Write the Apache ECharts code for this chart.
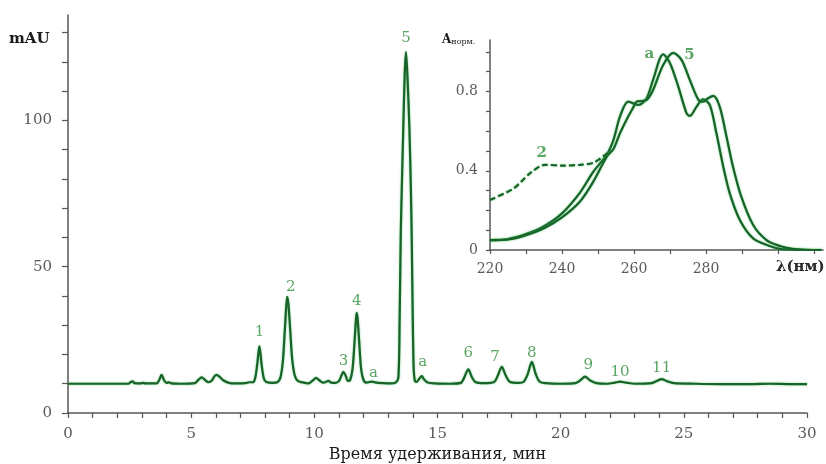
<!DOCTYPE html>
<html><head><meta charset="utf-8">
<script src="https://cdn.jsdelivr.net/npm/echarts@6/dist/echarts.min.js"></script>
<style>html,body{margin:0;padding:0;background:#fff}#c{width:826px;height:464px}</style>
</head><body><div id="c"></div>
<script>
// ---- Main chromatogram (time, min / absorbance, mAU) ----
const retentionTime = [0,1.5,2.45,2.55,2.62,2.7,2.95,3.05,3.15,3.6,3.7,3.8,3.9,4.0,4.1,4.2,4.6,5.15,5.3,5.43,5.55,5.7,5.85,5.95,6.04,6.15,6.3,6.5,6.8,7.2,7.35,7.5,7.6,7.68,7.77,7.86,7.95,8.05,8.3,8.5,8.62,8.72,8.8,8.86,8.9,8.95,9.02,9.1,9.2,9.32,9.5,9.75,9.95,10.07,10.2,10.35,10.47,10.57,10.68,10.85,11.0,11.1,11.18,11.27,11.36,11.45,11.55,11.63,11.69,11.72,11.76,11.82,11.9,12.0,12.12,12.25,12.35,12.5,12.8,13.1,13.3,13.41,13.46,13.51,13.56,13.61,13.67,13.72,13.78,13.86,13.91,13.95,13.99,14.03,14.08,14.15,14.25,14.36,14.46,14.6,14.9,15.5,15.95,16.08,16.25,16.4,16.55,16.9,17.3,17.45,17.61,17.77,17.95,18.3,18.5,18.66,18.83,18.98,19.15,19.4,20.0,20.6,20.8,20.99,21.2,21.45,21.9,22.2,22.41,22.65,23.0,23.7,23.9,24.1,24.33,24.6,25.5,26.5,27.8,28.5,29.3,30];
const absorbance = [10.0,10.0,10.0,10.6,10.8,10.2,10.1,10.3,10.1,10.1,11.2,13.0,11.2,10.3,10.5,10.1,10.0,10.2,11.4,12.2,11.4,10.5,11.2,12.6,13.0,12.4,11.2,10.4,10.1,10.2,10.5,10.5,12.0,16.5,22.9,16.5,11.8,10.6,10.3,10.5,12.0,17.5,28.0,36.5,39.7,37.0,28.5,18.5,13.0,11.0,10.5,10.1,11.2,12.0,11.2,10.4,10.6,11.0,10.4,10.3,10.9,12.8,14.1,12.8,11.0,11.2,15.0,24.0,32.0,34.2,32.0,24.5,15.0,11.2,10.4,10.6,10.7,10.4,10.2,10.1,10.4,12.0,30.0,62.0,80.0,97.0,116.0,123.3,115.0,97.0,80.0,62.0,36.0,16.0,11.0,10.6,11.6,12.6,11.4,10.4,10.1,10.0,10.3,12.0,14.9,12.2,10.5,10.2,10.6,12.8,15.8,12.8,10.6,10.3,10.7,13.2,17.5,13.5,10.7,10.2,10.0,10.2,11.2,12.4,11.1,10.2,10.0,10.4,10.7,10.4,10.0,10.2,10.9,11.6,10.8,10.2,10.0,9.9,9.9,10.0,9.9,9.9];

// peak annotations
const peakNames = ['1','2','3','4','a','5','a','6','7','8','9','10','11'];
const peakNameTime = [7.77,9.04,11.18,11.72,12.4,13.72,14.4,16.25,17.34,18.83,21.12,22.41,24.1];
const peakNameAbs = [27.7,43.1,17.9,38.4,13.8,128.0,17.5,20.6,19.2,20.3,16.4,14.1,15.3];

// main axis ticks
const timeTicks = [0,1,2,3,4,5,6,7,8,9,10,11,12,13,14,15,16,17,18,19,20,21,22,23,24,25,26,27,28,29,30];
const timeLabels = [0,5,10,15,20,25,30];
const mauTicks = [0,10,20,30,40,50,60,70,80,90,100,110,120,130];
const mauLabels = [0,50,100];

// ---- Inset UV spectra (nm / normalised absorbance) ----
const wavelengthA = [220,225,230,235,240,245,248.7,252.4,254.3,256.1,258.4,261.2,263.5,265.3,268.1,270,272.3,274.6,275.5,277.4,279.2,281.1,282.9,284.8,286.6,289.4,293.1,297.7,300.5,305,312];
const spectrumA = [0.05,0.055,0.08,0.12,0.185,0.29,0.395,0.48,0.556,0.673,0.749,0.732,0.766,0.859,0.988,0.943,0.825,0.69,0.677,0.724,0.761,0.73,0.589,0.42,0.286,0.152,0.059,0.02,0.006,0.001,0];
const wavelength5 = [220,225,230,235,240,245,248.7,252.4,254.3,256.1,258,259.8,260.7,262,263.5,265.3,268.1,270.9,273.2,275.5,277.9,279.2,280.5,282,283.8,285.7,287.5,289.8,293.1,296.8,300.5,304,308,312];
const spectrum5 = [0.05,0.053,0.075,0.11,0.165,0.245,0.345,0.47,0.51,0.589,0.66,0.72,0.749,0.752,0.757,0.808,0.934,0.995,0.96,0.859,0.758,0.749,0.765,0.778,0.724,0.572,0.42,0.269,0.126,0.05,0.02,0.006,0.001,0];
const wavelength2 = [220,226.5,231.1,235.3,240.4,245,248.7,252,253.5];
const spectrum2 = [0.253,0.31,0.387,0.43,0.426,0.43,0.44,0.48,0.5];
const specNames = ['a','5','2'];
const specNameWl = [264.3,275.4,234.4];
const specNameVal = [0.99,0.985,0.488];

const nmTicks = [220,230,240,250,260,270,280,290,300,310];
const nmLabels = [220,240,260,280];
const normTicks = [0,0.1,0.2,0.3,0.4,0.5,0.6,0.7,0.8,0.9,1.0];
const normLabels = [0,0.4,0.8];

const zip = (a, b) => a.map((v, i) => [v, b[i]]);
const FONT = 'DejaVu Serif';
const lineGreen = '#17632a';
const labelGreen = '#2f8f3c';
const axisGray = '#555';
const lineStyle = {color: lineGreen, width: 2.2, shadowColor: 'rgba(60,190,80,0.7)', shadowBlur: 2};

const chart = echarts.init(document.getElementById('c'), null, {renderer: 'canvas'});
chart.setOption({
  animation: false,
  backgroundColor: '#fff',
  grid: [
    {left: 68, right: 19, top: 15, bottom: 51, outerBoundsMode: 'none', containLabel: false},
    {left: 490, right: 3, top: 40, bottom: 214, outerBoundsMode: 'none', containLabel: false}
  ],
  xAxis: [
    {
      gridIndex: 0, type: 'value', min: 0, max: 30,
      name: 'Время удерживания, мин', nameLocation: 'middle', nameGap: 30,
      nameTextStyle: {fontFamily: FONT, fontSize: 16, color: '#1a1a1a'},
      splitLine: {show: false},
      axisLine: {show: true, lineStyle: {color: axisGray, width: 1.5}},
      axisTick: {show: true, customValues: timeTicks, length: 5, lineStyle: {color: axisGray, width: 1.2}},
      axisLabel: {customValues: timeLabels, margin: 14, fontFamily: FONT, fontSize: 15, color: '#5a5a5a'}
    },
    {
      gridIndex: 1, type: 'value', min: 220, max: 312.5,
      splitLine: {show: false},
      axisLine: {show: true, lineStyle: {color: axisGray, width: 1.5}},
      axisTick: {show: true, customValues: nmTicks, length: 4, lineStyle: {color: axisGray, width: 1.2}},
      axisLabel: {customValues: nmLabels, margin: 12, fontFamily: FONT, fontSize: 14, color: '#5a5a5a'}
    }
  ],
  yAxis: [
    {
      gridIndex: 0, type: 'value', min: 0, max: 136,
      splitLine: {show: false},
      axisLine: {show: true, lineStyle: {color: axisGray, width: 1.5}},
      axisTick: {show: true, customValues: mauTicks, length: 6, lineStyle: {color: axisGray, width: 1.2}},
      axisLabel: {customValues: mauLabels, margin: 16, fontFamily: FONT, fontSize: 15, color: '#5a5a5a'}
    },
    {
      gridIndex: 1, type: 'value', min: 0, max: 1.06,
      splitLine: {show: false},
      axisLine: {show: true, lineStyle: {color: axisGray, width: 1.5}},
      axisTick: {show: true, customValues: normTicks, length: 4, lineStyle: {color: axisGray, width: 1.2}},
      axisLabel: {customValues: normLabels, margin: 12, fontFamily: FONT, fontSize: 14, color: '#5a5a5a',
        formatter: v => String(Math.round(v * 10) / 10)}
    }
  ],
  graphic: [
    {type: 'text', left: 9, top: 32, style: {text: 'mAU', fontFamily: FONT, fontSize: 15, fontWeight: 'bold', fill: '#1a1a1a'}},
    {type: 'text', left: 776, top: 260, style: {text: 'λ(нм)', fontFamily: FONT, fontSize: 15, fontWeight: 'bold', fill: '#2a2a2a'}},
    {type: 'text', left: 442, top: 34, style: {
      text: '{a|A}{b|норм.}', fontFamily: FONT,
      rich: {a: {fontSize: 12, fontFamily: FONT, fill: '#1a1a1a', fontWeight: 'bold'},
             b: {fontSize: 8, fontFamily: FONT, fill: '#1a1a1a', padding: [4, 0, 0, 0]}}
    }}
  ],
  series: [
    {type: 'line', xAxisIndex: 0, yAxisIndex: 0, data: zip(retentionTime, absorbance),
      showSymbol: false, smooth: 0.3, lineStyle: lineStyle, z: 3},
    {type: 'scatter', xAxisIndex: 0, yAxisIndex: 0, symbolSize: 1, itemStyle: {color: 'rgba(0,0,0,0)'},
      data: peakNameTime.map((t, i) => [t, peakNameAbs[i], peakNames[i]]),
      label: {show: true, position: 'inside', formatter: p => p.data[2],
        fontFamily: FONT, fontSize: 15, color: labelGreen}, z: 5},
    {type: 'line', xAxisIndex: 1, yAxisIndex: 1, data: zip(wavelengthA, spectrumA),
      showSymbol: false, smooth: 0.3, lineStyle: lineStyle},
    {type: 'line', xAxisIndex: 1, yAxisIndex: 1, data: zip(wavelength5, spectrum5),
      showSymbol: false, smooth: 0.3, lineStyle: lineStyle},
    {type: 'line', xAxisIndex: 1, yAxisIndex: 1, data: zip(wavelength2, spectrum2),
      showSymbol: false, smooth: 0.3, lineStyle: Object.assign({}, lineStyle, {type: [6, 3]})},
    {type: 'scatter', xAxisIndex: 1, yAxisIndex: 1, symbolSize: 1, itemStyle: {color: 'rgba(0,0,0,0)'},
      data: specNameWl.map((w, i) => [w, specNameVal[i], specNames[i]]),
      label: {show: true, position: 'inside', formatter: p => p.data[2],
        fontFamily: FONT, fontSize: 15, fontWeight: 'bold', color: labelGreen}, z: 5}
  ]
});
</script>
</body></html>
